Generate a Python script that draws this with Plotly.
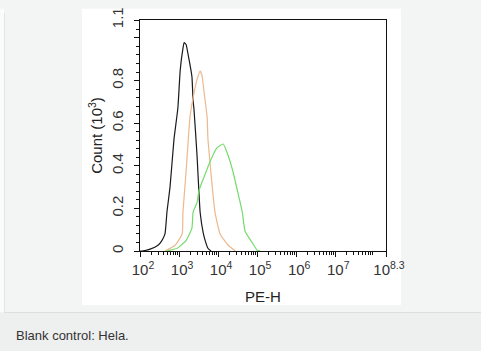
import plotly.graph_objects as go

# ---- data (x as log10 of PE-H, y as count in 10^3) ----
black_exp = [2.00, 2.05, 2.26, 2.46, 2.56, 2.64, 2.69, 2.77, 2.87, 2.97, 3.03, 3.10, 3.13,
             3.18, 3.23, 3.33, 3.36, 3.38, 3.46, 3.54, 3.62, 3.67, 3.74, 3.82]
black_cnt = [0.0, 0.0, 0.009, 0.027, 0.049, 0.08, 0.182, 0.302, 0.524, 0.671, 0.849, 0.951, 0.978,
             0.969, 0.924, 0.818, 0.702, 0.671, 0.449, 0.182, 0.084, 0.049, 0.013, 0.0]

orange_exp = [2.64, 2.90, 3.08, 3.10, 3.18, 3.28, 3.38, 3.46, 3.54, 3.59, 3.64, 3.72, 3.74,
              3.85, 3.92, 4.05, 4.26, 4.44]
orange_cnt = [0.0, 0.027, 0.08, 0.182, 0.373, 0.627, 0.738, 0.804, 0.844, 0.822, 0.747, 0.627,
              0.524, 0.302, 0.182, 0.08, 0.027, 0.0]

green_exp = [2.69, 2.95, 3.18, 3.33, 3.36, 3.46, 3.51, 3.62, 3.79, 3.97, 4.13, 4.23, 4.38,
             4.51, 4.62, 4.69, 4.87, 5.00, 5.08]
green_cnt = [0.0, 0.013, 0.049, 0.107, 0.182, 0.227, 0.284, 0.338, 0.418, 0.484, 0.502, 0.462,
             0.373, 0.271, 0.182, 0.093, 0.04, 0.004, 0.0]

x_tick_exp = [2, 3, 4, 5, 6, 7, 8.3]
x_tick_text = ["10<sup>2</sup>", "10<sup>3</sup>", "10<sup>4</sup>", "10<sup>5</sup>",
               "10<sup>6</sup>", "10<sup>7</sup>", "10<sup>8.3</sup>"]
y_tick_vals = [0, 0.2, 0.4, 0.6, 0.8, 1.0, 1.084]
y_tick_text = ["0", "0.2", "0.4", "0.6", "0.8", "", "1.1"]
caption = "Blank control: Hela."

FONT = "Arial, Liberation Sans, Helvetica, sans-serif"

fig = go.Figure()
for ex, cnt, col in [(black_exp, black_cnt, "#1a1a1a"),
                     (orange_exp, orange_cnt, "#ecb88e"),
                     (green_exp, green_cnt, "#74dc6c")]:
    fig.add_trace(go.Scatter(x=[10 ** e for e in ex], y=cnt, mode="lines",
                             line=dict(color=col, width=1.2, shape="spline", smoothing=0.4),
                             showlegend=False, hoverinfo="skip"))

minor_x = [k * 10 ** d for d in range(2, 9) for k in range(2, 10) if k * 10 ** d <= 10 ** 8.3]

L, R, T, B = 140, 95, 7, 100
W, H = 481, 351
pw, ph = W - L - R, H - T - B

def px(xp):
    return (xp - L) / pw

def py(yp):
    return (H - B - yp) / ph

shapes = [
    dict(type="rect", xref="paper", yref="paper", x0=px(-5), x1=px(4), y0=py(-5), y1=py(316),
         fillcolor="#fbfbfb", line=dict(width=0), layer="below"),
    dict(type="rect", xref="paper", yref="paper", x0=px(82), x1=px(401), y0=py(308), y1=py(-5),
         fillcolor="white", line=dict(width=0), layer="below"),
    dict(type="rect", xref="paper", yref="paper", x0=px(-5), x1=px(490), y0=py(360), y1=py(316),
         fillcolor="#eeefef", line=dict(width=0), layer="below"),
    dict(type="line", xref="paper", yref="paper", x0=px(4), x1=px(490), y0=py(316), y1=py(316),
         line=dict(color="#dcdede", width=1), layer="below"),
    dict(type="line", xref="paper", yref="paper", x0=px(4.5), x1=px(4.5), y0=py(0), y1=py(316),
         line=dict(color="#e2e4e4", width=1), layer="below"),
]

fig.update_layout(
    width=W, height=H,
    margin=dict(l=L, r=R, t=T, b=B),
    paper_bgcolor="#f3f5f5", plot_bgcolor="white",
    font=dict(family=FONT, color="#333333", size=13),
    shapes=shapes,
    xaxis=dict(type="log", range=[2, 8.3], showgrid=False, zeroline=False,
               showline=True, linecolor="#111", linewidth=1, mirror=True,
               tickmode="array", tickvals=[10 ** e for e in x_tick_exp], ticktext=x_tick_text,
               ticks="outside", ticklen=5, tickcolor="#111", tickwidth=1,
               tickfont=dict(size=15, color="#333"), ticklabelshift=3,
               ticklabeloverflow="allow",
               minor=dict(tickmode="array", tickvals=minor_x, ticks="outside", ticklen=3,
                          tickcolor="#111", tickwidth=1, showgrid=False),
               title=dict(text="PE-H", font=dict(size=15, color="#222"), standoff=14)),
    yaxis=dict(range=[0, 1.084], showgrid=False, zeroline=False,
               showline=True, linecolor="#111", linewidth=1, mirror=True,
               tickmode="array", tickvals=y_tick_vals, ticktext=y_tick_text,
               ticks="outside", ticklen=5, tickcolor="#111", tickwidth=1,
               tickangle=-90, tickfont=dict(size=15, color="#333"),
               ticklabeloverflow="allow", ticklabelstandoff=5,
               minor=dict(dtick=0.04, tick0=0, ticks="outside", ticklen=3,
                          tickcolor="#111", tickwidth=1, showgrid=False),
               title=dict(text="Count (10<sup>3</sup>)", font=dict(size=15, color="#222"),
                          standoff=2)),
    annotations=[
        dict(text=caption, xref="paper", yref="paper", x=px(14), y=py(340),
             xanchor="left", yanchor="middle", showarrow=False,
             font=dict(size=13, color="#333", family=FONT)),
    ],
)

fig.write_html("out.html")
